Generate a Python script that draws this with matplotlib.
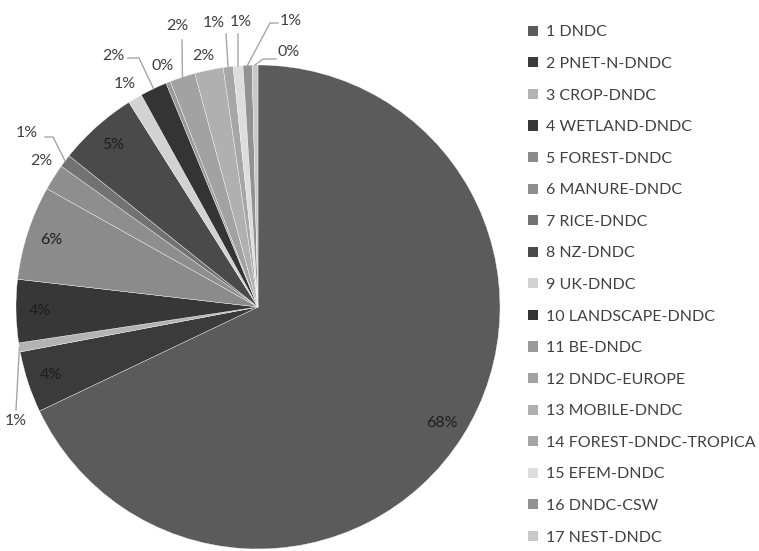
import numpy as np
import matplotlib.pyplot as plt
from matplotlib.patches import Patch

plt.rcParams['font.family'] = ['Lato', 'DejaVu Sans']

# Share of studies per DNDC version (%)
models = ['1 DNDC', '2 PNET-N-DNDC', '3 CROP-DNDC', '4 WETLAND-DNDC',
          '5 FOREST-DNDC', '6 MANURE-DNDC', '7 RICE-DNDC', '8 NZ-DNDC',
          '9 UK-DNDC', '10 LANDSCAPE-DNDC', '11 BE-DNDC', '12 DNDC-EUROPE',
          '13 MOBILE-DNDC', '14 FOREST-DNDC-TROPICA', '15 EFEM-DNDC',
          '16 DNDC-CSW', '17 NEST-DNDC']
share = [67.9, 4.1, 0.6, 4.2, 6.3, 1.75, 0.86, 5.3, 0.95, 1.8, 0.3, 1.7,
         1.9, 0.66, 0.65, 0.6, 0.39]
greys = ['#5b5b5b', '#3b3b3b', '#b3b3b3', '#373737', '#8b8b8b', '#8e8e8e',
         '#727272', '#4a4a4a', '#d2d2d2', '#343434', '#9a9a9a', '#a2a2a2',
         '#b0b0b0', '#a6a6a6', '#dddddd', '#929292', '#c9c9c9']

W, H = 759, 551
cx, cy, R = 258, 307, 242   # pie centre / radius in pixels

fig = plt.figure(figsize=[W / 100, H / 100], dpi=100)
ax = fig.add_axes([(cx - R) / W, (H - cy - R) / H, 2 * R / W, 2 * R / H])

wedges, _ = ax.pie(share, colors=greys, startangle=90, counterclock=False,
                   radius=1, wedgeprops=dict(edgecolor='white', linewidth=0.25))
# pie() sets its own limits, so fix them afterwards
ax.set_xlim(-1, 1)
ax.set_ylim(-1, 1)
ax.set_aspect('equal')
ax.axis('off')


def px(x, y):
    # pixel position -> data coords
    return (x - cx) / R, (cy - y) / R


pct = [f'{round(v):d}%' for v in share]
txtcol = '#404040'
linecol = '#a6a6a6'

# labels inside the big wedges, along the mid angle
for i in [0, 1, 3, 4, 7]:
    w = wedges[i]
    a = np.deg2rad((w.theta1 + w.theta2) / 2)
    r = 0.9
    ax.text(r * np.cos(a), r * np.sin(a), pct[i], ha='center', va='center',
            fontsize=11.5, color='#1e1e1e')

# small wedges: label position and leader elbow points (pixels)
outside = {
    2: ((16, 421), [(16, 410)]),
    5: ((41, 161), None),
    6: ((27, 133), [(45, 137), (53, 137)]),
    8: ((125, 84), None),
    9: ((113, 56), [(128, 58), (139, 58)]),
    10: ((163, 66), None),
    11: ((177, 26), [(182, 40)]),
    12: ((203, 56), None),
    13: ((214, 23), [(226, 34)]),
    14: ((241, 22), [(238, 34)]),
    15: ((291, 21), [(278, 23), (270, 23)]),
    16: ((289, 52), [(276, 59), (263, 59)]),
}
for i, (pos, elbow) in outside.items():
    w = wedges[i]
    a = np.deg2rad((w.theta1 + w.theta2) / 2)
    tx, ty = px(*pos)
    ax.text(tx, ty, pct[i], ha='center', va='center', fontsize=11.5,
            color=txtcol)
    if elbow:
        pts = [px(*p) for p in elbow] + [(np.cos(a), np.sin(a))]
        ax.plot([p[0] for p in pts], [p[1] for p in pts], color=linecol,
                lw=1, clip_on=False)

handles = [Patch(facecolor=c, edgecolor='none') for c in greys]
fig.legend(handles, models, loc='upper left', bbox_to_anchor=(522 / W, 1 - 19 / H),
           frameon=False, fontsize=11.5, labelcolor=txtcol,
           handlelength=0.6, handleheight=0.6, handletextpad=0.5,
           labelspacing=1.1, borderaxespad=0)

plt.savefig('out.png', dpi=100)
